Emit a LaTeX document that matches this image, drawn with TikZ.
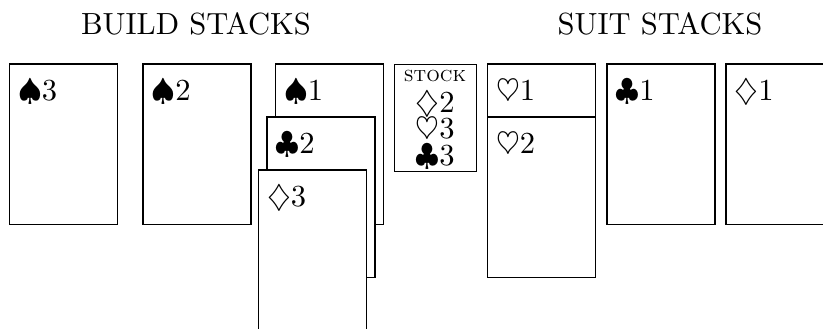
\documentclass[tikz,border=0pt]{standalone}
\usepackage{amsmath, amssymb}
\usepackage{tikz}
\usetikzlibrary{calc, positioning}

\tikzset{
  card/.style={draw, fill=white, anchor=north west, inner sep=0pt, outer sep=0pt,
    minimum width=1.24cm, minimum height=1.84cm},
  cardlabel/.style={anchor=base west, inner sep=0pt, xshift=0.092cm, yshift=-0.425cm},
  heading/.style={anchor=base, inner sep=0pt},
  stockline/.style={anchor=base, inner sep=0pt, text height=6.4pt, text depth=0.6pt}
}

\begin{document}
\begin{tikzpicture}
  \clip (0, 0) rectangle (9.456, -3.769);

  \node[heading] (build) at (2.252, -0.391) {BUILD STACKS};
  \node[heading] (suit) at (7.583, -0.391) {SUIT STACKS};

  % build stacks
  \node[card, label={[cardlabel]north west:$\spadesuit$3}] (sp3) at (0.109, -0.735) {};
  \node[card, label={[cardlabel]north west:$\spadesuit$2}] (sp2) at (1.643, -0.735) {};
  \node[card, label={[cardlabel]north west:$\spadesuit$1}] (sp1) at (3.166, -0.735) {};
  \node[card, label={[cardlabel]north west:$\clubsuit$2}] (cl2) at (3.068, -1.344) {};
  \node[card, label={[cardlabel]north west:$\diamondsuit$3}] (di3) at (2.970, -1.953) {};

  % stock
  \node[draw, anchor=north west, inner sep=0pt, minimum width=0.942cm, minimum height=1.23cm]
    (stock) at (4.527, -0.735) {};
  \node[heading, font=\scriptsize] (stk) at (4.998, -0.931) {\textsc{stock}};
  \node[stockline] (stk1) at (4.998, -1.287) {$\diamondsuit$2};
  \node[stockline] (stk2) at (4.998, -1.586) {$\heartsuit$3};
  \node[stockline] (stk3) at (4.998, -1.896) {$\clubsuit$3};

  % suit stacks
  \node[card, label={[cardlabel]north west:$\heartsuit$1}] (he1) at (5.601, -0.735) {};
  \node[card, label={[cardlabel]north west:$\heartsuit$2}] (he2) at (5.601, -1.344) {};
  \node[card, label={[cardlabel]north west:$\clubsuit$1}] (cl1) at (6.974, -0.735) {};
  \node[card, label={[cardlabel]north west:$\diamondsuit$1}] (di1) at (8.342, -0.735) {};
\end{tikzpicture}
\end{document}
